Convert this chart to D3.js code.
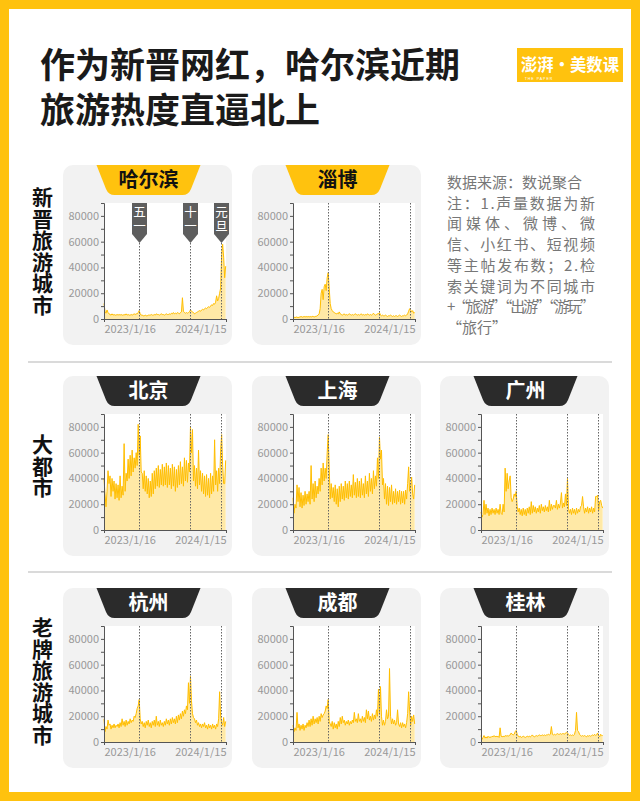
<!DOCTYPE html>
<html><head><meta charset="utf-8">
<script src="https://cdn.jsdelivr.net/npm/d3@7"></script>
<style>body{margin:0;background:#fff}svg{display:block}</style>
</head><body>
<svg id="c" width="640" height="801"></svg>
<script>
// ---------- data ----------
const START = "2023-01-16", END = "2024-01-15", STEP_DAYS = 3; // one reading every 3 days
const UNIT = 1000; // series values below are in thousands
const yTicks = [0, 20000, 40000, 60000, 80000];
const yMinorTicks = [0, 10000, 20000, 30000, 40000, 50000, 60000, 70000, 80000, 90000];
const xTickLabels = ["2023/1/16", "2024/1/15"];
const holidays = [["五一", "2023-05-01"], ["十一", "2023-10-01"], ["元旦", "2024-01-01"]];
const rowLabels = ["新晋旅游城市", "大都市", "老牌旅游城市"];
const cityNames = ["哈尔滨", "淄博", "北京", "上海", "广州", "杭州", "成都", "桂林"];
const titleLines = ["作为新晋网红，哈尔滨近期", "旅游热度直逼北上"];
const unitLines = ["声量", "数据"];
const noteLines = ["数据来源：数说聚合", "注：1.声量数据为新", "闻媒体、微博、微", "信、小红书、短视频", "等主帖发布数；2.检", "索关键词为不同城市", "+“旅游”“出游”“游玩”", "“旅行”"];

const harbin = [12,6,4.5,7,5,4,
 3.5,3,4,3,3.5,3,3,3.5,3,3.5,
 3,3.5,3,3,3.5,3,4,3,3.5,3,3,3.5,3,3.5,4,
 3.5,4,4,5,6.5,4,
 3,3,2.5,2.5,3,2.5,2.5,3,3,
 3,3.5,3,3,3.5,3,4,3.5,3.5,3,3.5,4,3.5,3.5,3,3.5,4,3.5,3.5,4,3.5,
 4.5,4,5,4,4.5,4,5,4.5,4,5,5.5,
 16.5,6,5,4.5,5,4.5,5,5.5,7,
 6,5.5,5,4,4.5,5,
 5.5,6,6.5,6,7,7.5,7,8,8.5,8,9,9.5,9,
 10,11,10.5,12,11.5,
 13,18,14,16,20,24,50,58,48,32,41];
const zibo = [1,1.5,1,1.5,1.5,1,1.5,1.5,2,1.5,1.5,2,1.5,2,1.5,2,1.5,2,1.5,2,2,1.5,2,2,2.5,3,
 4,8,20,23,15,25,27,22,32,36,24,12,8,6.5,5.5,
 5,4.5,4,4.5,4,5.5,4,
 3.5,3,3.5,4,3,3.5,3,3.5,4,3.5,3,3.5,3,3.5,4,3.5,3,3.5,3,3.5,4,3,3.5,3,3.5,3,4,3.5,3,3.5,3,3.5,4.5,3.5,3,3.5,4,
 4,5,
 3,2.5,3,2.5,2.5,3,2.5,2,2.5,2.5,3,2.5,2,2.5,2,2.5,2.5,2,2.5,3,2.5,2,2.5,2.5,3,2.5,3,
 4,6,8,7,5.5,6.5,4.5,5];
const beijing = [40,28,18,30,46,36,42,26,40,30,
 38,24,36,25,35,23,42,25,34,27,
 67,30,44,38,55,40,58,42,62,45,
 56,48,60,50,82,58,73,45,44,32,
 46,30,42,28,40,25,38,26,44,28,
 46,32,48,34,50,33,47,35,51,34,
 49,35,52,33,50,35,48,32,51,34,
 49,30,47,33,50,35,53,36,49,34,
 56,38,54,37,52,45,80,60,78,38,
 50,34,48,32,62,35,46,30,44,28,
 42,26,43,27,40,25,44,28,42,30,
 70,35,46,30,48,36,62,74,50,36,
 36,54];
const shanghai = [25,13,20,17,35,22,33,18,29,17,
 27,19,30,20,28,22,30,20,50,24,
 36,22,38,25,34,28,40,30,48,35,
 52,38,48,40,60,74,48,24,36,25,
 33,22,35,20,32,18,34,22,36,24,
 34,23,38,25,36,24,38,26,35,25,
 43,27,37,25,40,26,38,25,40,27,
 36,25,42,28,38,26,44,30,40,28,
 46,32,42,34,56,40,72,55,62,35,
 40,24,36,20,34,19,33,22,35,20,
 30,21,32,20,30,22,31,20,30,21,
 30,20,31,24,36,49,30,34,41,28,
 24,35];
const guangzhou = [14,10,12,23,12,20,13,17,11,16,
 12,17,13,16,12,17,13,16,12,20,
 13,12,20,14,48,30,44,32,38,42,
 25,22,24,28,26,30,18,14,17,12,
 16,11,17,12,16,11,17,13,18,12,
 22,13,19,14,18,13,17,14,19,13,
 20,15,18,14,19,15,18,14,23,15,
 20,16,19,19,17,23,16,20,17,21,
 29,17,21,18,28,19,40,17,13,16,
 12,17,13,16,12,17,13,16,14,18,
 19,26,18,13,17,14,18,13,17,14,
 18,13,17,14,26,26,27,15,22,23,
 19,17];
const hangzhou = [18,8,12,10,17,13,14,10,13,11,
 14,11,13,12,14,11,15,12,18,13,
 16,12,17,13,16,14,18,15,17,16,
 20,19,22,26,28,33,18,14,16,12,
 15,11,16,13,17,12,15,11,16,13,
 17,12,20,13,16,12,17,13,15,12,
 16,13,18,14,17,13,18,14,19,15,
 18,14,20,15,21,17,22,18,24,20,
 25,22,28,25,46,30,51,32,22,19,
 18,15,17,13,15,12,14,11,14,12,
 15,11,13,10,14,11,13,10,14,11,
 13,10,14,12,18,39,20,15,13,19,
 12,16];
const chengdu = [13,8,11,9,23,11,14,9,13,10,
 14,9,13,11,15,12,17,12,18,13,
 20,14,18,15,19,14,20,16,22,19,
 21,22,24,28,26,33,16,14,12,16,
 10,15,11,14,10,16,12,19,14,20,
 15,17,13,16,14,17,13,16,14,17,
 15,23,16,18,15,22,16,18,15,20,
 16,19,15,25,18,24,17,20,16,22,
 17,21,18,25,20,41,22,43,20,13,
 17,13,16,25,18,20,57,20,14,18,
 14,17,13,15,25,14,12,15,11,15,
 12,14,11,15,22,39,24,13,20,16,
 21,14];
const guilin = [5,2,3.5,5,3,4,3,4.5,3.5,4,
 3.5,4.5,4,5,4,4.5,4,4.5,3.5,11,
 4.5,4,4.5,4,5,4.5,5,4.5,5,5.5,
 7,6,5.5,6,8,9,6,4.5,4,4.5,
 3.5,4,4.5,4,3.5,4,4.5,4,4.5,4,
 4.5,5.5,4.5,4,4.5,5,4.5,5,5.5,5,
 5,5.5,5,5.5,5,5.5,5.5,6,5.5,6,
 12,6,5.5,6,5.5,6,6.5,6,6,6.5,
 6,6.5,6.5,6,7,7.5,7,6,5,5.5,
 5,5.5,5,6,9,23,9,8,6,5,
 4.5,5,4.5,5,4.5,4,5,4.5,5,4.5,
 5,5.5,5,6,5,5.5,7,5,4,6,
 5,5];

// ---------- drawing ----------
const YELLOW = "#FFC20E", DARK = "#2b2b2b";
const FONT = "'Noto Sans CJK SC','Noto Sans',sans-serif";
const TIGHT = "'Liberation Sans','Noto Sans CJK SC',sans-serif"; // tighter line box, CJK via fallback
const parse = d3.timeParse("%Y-%m-%d");
const t0 = parse(START), t1 = parse(END);

const svg = d3.select("#c").attr("font-family", FONT);
svg.append("rect").attr("width", 640).attr("height", 801).attr("fill", YELLOW);
svg.append("rect").attr("x", 9).attr("y", 9).attr("width", 622).attr("height", 783).attr("fill", "#fff");

const title = svg.append("text").attr("font-size", 35).attr("font-weight", 700).attr("fill", "#1a1a1a")
  .attr("font-family", TIGHT);
titleLines.forEach((t, i) => title.append("tspan").attr("x", 40).attr("y", 78 + i * 45).text(t));

// logo
svg.append("rect").attr("x", 517).attr("y", 48).attr("width", 106).attr("height", 34).attr("fill", YELLOW);
svg.append("text").attr("x", 521).attr("y", 71).attr("font-size", 16.5)
  .attr("font-weight", 700).attr("fill", "#fff").attr("textLength", 98).attr("lengthAdjust", "spacingAndGlyphs")
  .text("澎湃·美数课");
svg.append("text").attr("x", 539).attr("y", 79.5).attr("text-anchor", "middle").attr("font-size", 3.5)
  .attr("fill", "#fff").attr("font-family", "'Liberation Sans',sans-serif").attr("letter-spacing", 1).text("THE PAPER");

// separators
[362, 572].forEach(y => svg.append("line").attr("x1", 28).attr("x2", 612).attr("y1", y).attr("y2", y)
  .attr("stroke", "#b5b5b5").attr("stroke-width", 1));

// row labels (vertical writing)
const rowY = [165, 376, 588];
const rowLabelTop = [187, 434, 617];
rowLabels.forEach((lab, r) => {
  svg.append("text").attr("x", 42.5).attr("y", rowLabelTop[r]).attr("writing-mode", "vertical-rl")
    .attr("font-size", 21).attr("letter-spacing", 0.5).attr("font-weight", 700).attr("fill", "#111").text(lab);
});

// notes
noteLines.forEach((ln, i) => {
  const t = svg.append("text").attr("x", 447).attr("y", 188 + i * 20.7).attr("font-size", 15)
    .attr("fill", "#777").text(ln);
  if (i > 0 && i < noteLines.length - 1) t.attr("textLength", 148).attr("lengthAdjust", "spacing");
});

// "声量数据" label
const unit = svg.append("text").attr("text-anchor", "middle").attr("font-size", 15).attr("fill", "#333")
  .attr("font-family", TIGHT);
unitLines.forEach((t, i) => unit.append("tspan").attr("x", 84).attr("y", 179 + i * 18).text(t));
svg.append("path").attr("d", "M80,201.5L88,201.5L84,207.5Z").attr("fill", "#222");

const series = [harbin, zibo, beijing, shanghai, guangzhou, hangzhou, chengdu, guilin];
const slots = [[0,0],[1,0],[0,1],[1,1],[2,1],[0,2],[1,2],[2,2]];
const colX = [63, 252, 440];
const PW = 169, PH = 180;

series.forEach((vals, idx) => {
  const [c, r] = slots[idx];
  const x0 = colX[c], y0 = rowY[r];
  const name = cityNames[idx];
  const g = svg.append("g");
  g.append("rect").attr("x", x0).attr("y", y0).attr("width", PW).attr("height", PH).attr("rx", 10).attr("fill", "#F2F2F2");
  const L = x0 + 41, R = x0 + 163, T = y0 + 38, B = y0 + 154;
  g.append("rect").attr("x", L).attr("y", T).attr("width", R - L).attr("height", B - T).attr("fill", "#fff");
  const x = d3.scaleTime().domain([t0, t1]).range([L, R]);
  const y = d3.scaleLinear().domain([0, 90000]).range([B, T]);
  const data = vals.map((v, i) => ({ date: d3.timeDay.offset(t0, i * STEP_DAYS), v: v * UNIT }));
  g.append("path").datum(data).attr("fill", "#FFE9A6")
    .attr("d", d3.area().x(d => x(d.date)).y0(B).y1(d => y(d.v)));
  g.append("path").datum(data).attr("fill", "none").attr("stroke", "#FFBE00").attr("stroke-width", 1)
    .attr("stroke-linejoin", "round")
    .attr("d", d3.line().x(d => x(d.date)).y(d => y(d.v)));

  const withMarkers = idx === 0;
  holidays.forEach(([hn, hd]) => {
    const hx = Math.round(x(parse(hd))) + 0.5;
    g.append("line").attr("x1", hx).attr("x2", hx).attr("y1", withMarkers ? T + 40 : T).attr("y2", B)
      .attr("stroke", "#666").attr("stroke-width", 1).attr("stroke-dasharray", "1.5,1.5");
    if (withMarkers) {
      g.append("path").attr("d", `M${hx-7.5},${T}H${hx+7.5}V${T+31}L${hx},${T+40}L${hx-7.5},${T+31}Z`).attr("fill", "#5e5e5e");
      g.append("text").attr("x", hx).attr("y", T + 3).attr("writing-mode", "vertical-rl")
        .attr("font-size", 12.5).attr("letter-spacing", 1).attr("fill", "#fff").text(hn);
    }
  });

  // y axis
  const ya = g.append("g").attr("transform", `translate(${L},0)`)
    .call(d3.axisLeft(y).tickValues(yMinorTicks).tickSize(3).tickPadding(2)
      .tickFormat(d => yTicks.includes(d) ? String(d) : ""));
  // x axis
  const xa = g.append("g").attr("transform", `translate(0,${B})`)
    .call(d3.axisBottom(x).tickValues([t0, t1]).tickSize(3).tickPadding(3)
      .tickFormat((d, i) => xTickLabels[i]));
  [ya, xa].forEach(a => {
    a.select(".domain").attr("stroke", "#555");
    a.selectAll(".tick line").attr("stroke", "#555");
    a.selectAll("text").attr("fill", "#999").attr("font-size", 11).attr("font-family", FONT);
  });
  xa.selectAll(".tick text").attr("text-anchor", (d, i) => i === 0 ? "start" : "end");

  // tab
  const cx = x0 + PW / 2 + 1;
  const rowOne = r === 0;
  g.append("path").attr("d",
    `M${cx-52},${y0}L${cx+52},${y0}L${cx+42.5},${y0+24}Q${cx+40},${y0+30} ${cx+34},${y0+30}` +
    `L${cx-34},${y0+30}Q${cx-40},${y0+30} ${cx-42.5},${y0+24}Z`)
    .attr("fill", rowOne ? YELLOW : DARK);
  g.append("text").attr("x", cx).attr("y", y0 + 22).attr("text-anchor", "middle").attr("font-size", 20)
    .attr("font-weight", 700).attr("fill", rowOne ? "#111" : "#fff").text(name);
});
</script>
</body></html>
